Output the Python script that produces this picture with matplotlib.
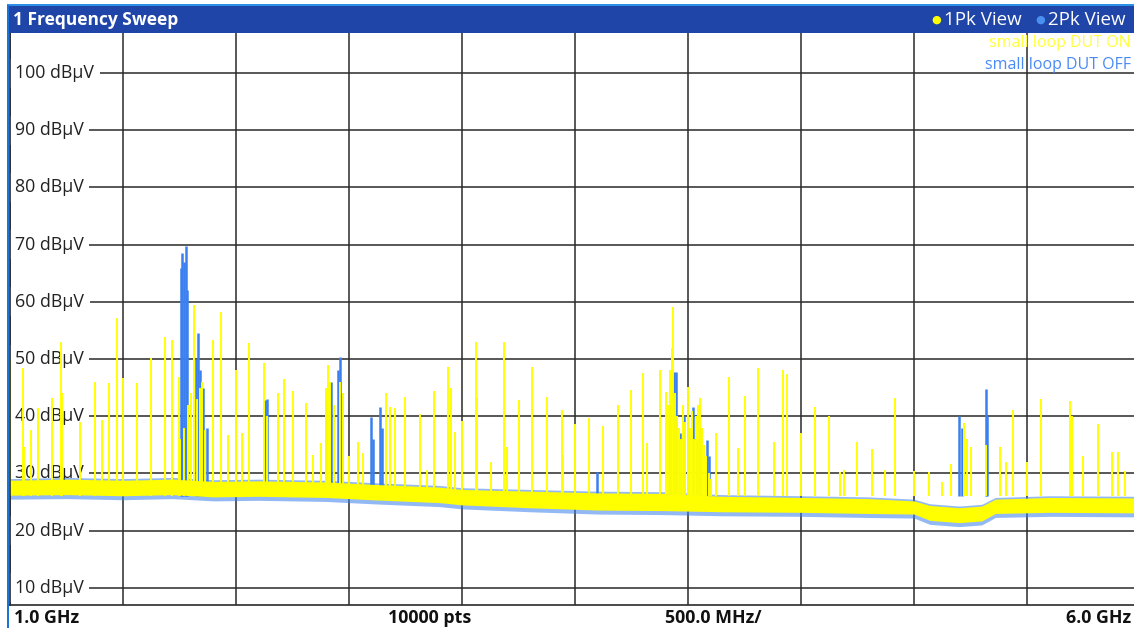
import matplotlib.pyplot as plt
from matplotlib.patches import Rectangle
import numpy as np

plt.rcParams["font.family"] = ["Open Sans", "DejaVu Sans"]

# ---- data (GHz, dBuV) ----
# noise floor band of trace 1 (yellow), top and bottom edge
floor_f = [1.00, 1.25, 1.50, 1.72, 1.90, 2.10, 2.40, 2.60, 2.90, 3.00,
           3.30, 3.60, 3.90, 4.15, 4.50, 4.80, 5.00, 5.07, 5.20, 5.30,
           5.36, 5.60, 6.00]
floor_top = [28.8, 29.0, 28.8, 29.0, 28.6, 28.7, 28.5, 28.1, 27.6, 27.2,
             26.9, 26.6, 26.5, 26.0, 25.8, 25.6, 25.2, 24.4, 24.0, 24.3,
             25.5, 25.8, 25.7]
floor_bot = [26.2, 26.3, 26.1, 26.3, 25.9, 26.0, 25.8, 25.4, 24.9, 24.5,
             24.0, 23.6, 23.5, 23.3, 23.2, 23.0, 22.9, 21.8, 21.4, 21.7,
             23.0, 23.2, 23.1]

# spurs of trace 1 "small loop DUT ON"
on_f = [1.002, 1.058, 1.062, 1.093, 1.124, 1.186, 1.226, 1.230, 1.310, 1.376,
        1.407, 1.438, 1.473, 1.500, 1.562, 1.624, 1.686, 1.717, 1.748, 1.752,
        1.770, 1.788, 1.801, 1.814, 1.827, 1.841, 1.850, 1.863, 1.898, 1.934,
        1.965, 2.000, 2.027, 2.058, 2.124, 2.137, 2.186, 2.212, 2.252, 2.310,
        2.341, 2.376, 2.398, 2.407, 2.416, 2.434, 2.460, 2.473, 2.500, 2.540,
        2.562, 2.664, 2.681, 2.704, 2.748, 2.814, 2.845, 2.876, 2.938, 2.951,
        2.969, 3.000, 3.062, 3.066, 3.128, 3.186, 3.199, 3.252, 3.310, 3.376,
        3.442, 3.447, 3.500, 3.562, 3.624, 3.690, 3.748, 3.801, 3.819, 3.874,
        3.903, 3.912, 3.920, 3.929, 3.934, 3.942, 3.951, 3.960, 3.969, 3.978,
        3.987, 4.000, 4.009, 4.018, 4.027, 4.035, 4.044, 4.053, 4.062, 4.071,
        4.080, 4.093, 4.102, 4.124, 4.181, 4.221, 4.252, 4.310, 4.381, 4.420,
        4.438, 4.500, 4.562, 4.624, 4.673, 4.690, 4.748, 4.814, 4.872, 4.916,
        5.000, 5.066, 5.124, 5.164, 5.221, 5.235, 5.252, 5.319, 5.381, 5.407,
        5.438, 5.500, 5.562, 5.690, 5.699, 5.748, 5.814, 5.876, 5.903, 5.934]
on_lvl = [50.0, 48.4, 34.6, 37.6, 41.4, 43.2, 53.0, 44.0, 39.0, 46.0,
          39.3, 45.8, 57.2, 46.7, 45.8, 50.2, 53.9, 53.3, 46.9, 36.0,
          38.0, 42.0, 44.0, 59.4, 43.0, 45.0, 46.0, 37.6, 53.3, 58.2,
          36.7, 48.1, 37.0, 52.8, 49.3, 40.0, 44.0, 46.5, 44.5, 42.3,
          33.2, 35.3, 45.0, 49.0, 46.0, 42.0, 46.0, 44.0, 33.0, 35.5,
          33.6, 44.0, 41.6, 41.4, 43.4, 40.4, 30.6, 44.4, 48.6, 44.9,
          37.2, 39.2, 53.0, 43.4, 32.0, 53.0, 34.6, 42.8, 48.6, 43.4,
          41.1, 33.2, 38.6, 39.7, 38.3, 42.0, 44.6, 47.6, 35.3, 48.1,
          44.2, 42.0, 48.0, 52.0, 59.1, 44.0, 40.0, 38.0, 36.0, 42.0,
          39.0, 45.1, 38.0, 41.0, 36.0, 40.0, 42.0, 43.2, 38.0, 35.0,
          33.0, 30.0, 29.0, 37.0, 46.9, 34.4, 43.5, 48.4, 35.5, 48.1,
          47.4, 37.0, 41.6, 40.0, 30.3, 30.6, 35.5, 34.3, 30.6, 43.2,
          30.5, 30.3, 28.5, 31.6, 38.8, 36.0, 34.6, 35.0, 34.6, 32.0,
          41.1, 32.0, 43.0, 42.7, 40.0, 33.0, 38.6, 33.7, 33.7, 30.5]

# spurs of trace 2 "small loop DUT OFF"
off_f = [1.757, 1.761, 1.770, 1.779, 1.783, 1.823, 1.832, 1.841, 1.854, 1.872,
         2.128, 2.137, 2.398, 2.420, 2.451, 2.460, 2.469, 2.597, 2.606, 2.637,
         2.646, 3.597, 3.920, 3.938, 3.947, 3.965, 3.982, 4.000, 4.022, 4.040,
         4.053, 4.084, 4.093, 5.199, 5.212, 5.319, 5.323]
off_lvl = [66.0, 68.5, 67.0, 69.8, 62.0, 50.0, 54.6, 48.0, 45.0, 38.0,
           42.8, 43.0, 43.0, 46.0, 48.0, 50.4, 44.0, 39.9, 36.0, 41.6,
           38.0, 30.3, 42.0, 47.7, 47.7, 37.0, 40.0, 38.0, 41.6, 36.0,
           38.0, 35.8, 33.0, 40.0, 38.0, 44.8, 40.0]

y_ticks = [10, 20, 30, 40, 50, 60, 70, 80, 90, 100]

YEL = "#ffff00"
BLU = "#3b80ee"

fig = plt.figure(figsize=(11.34, 6.28), dpi=100)
W, H = 1134, 628
ax = fig.add_axes([10 / W, (H - 605) / H, 1130 / W, 572 / H])
ax.set_xlim(1.0, 6.0)
ax.set_ylim(7, 107)
ax.set_xticks(np.arange(1.0, 6.01, 0.5))
ax.set_yticks(y_ticks)
ax.set_xticklabels([])
ax.set_yticklabels([])
ax.tick_params(length=0)
ax.grid(True, color="#2a2a2a", lw=1.1)
ax.set_axisbelow(True)
for s in ["top", "right"]:
    ax.spines[s].set_visible(False)
for s in ["left", "bottom"]:
    ax.spines[s].set_color("#2a2a2a")
    ax.spines[s].set_linewidth(1.2)
    ax.spines[s].set_zorder(5)

# y labels inside the plot, over the grid but under the traces
for v in y_ticks:
    ax.text(0.0045, v, f"{v} dBµV", transform=ax.get_yaxis_transform(),
            ha="left", va="center", fontsize=12.8, color="#222222", zorder=2,
            bbox=dict(facecolor="white", edgecolor="none", pad=4.0))

# trace 2 (blue) underneath
ax.fill_between(floor_f, np.array(floor_bot) - 0.7, np.array(floor_top) + 0.3,
                color=BLU, alpha=0.55, lw=0, zorder=3)
ax.vlines(off_f, 26.0, off_lvl, color=BLU, lw=1.8, zorder=3)

# trace 1 (yellow) on top
ax.vlines(on_f, 26.0, on_lvl, color=YEL, lw=1.4, zorder=4)
ax.fill_between(floor_f, floor_bot, floor_top, color=YEL, lw=0, zorder=4)

# title bar and frame
fig.patches.append(Rectangle((7 / W, (H - 33) / H), 1 - 7 / W, 28 / H,
                             transform=fig.transFigure, facecolor="#1f45a8",
                             edgecolor="none", zorder=5))
fig.patches.append(Rectangle((7 / W, (H - 6) / H), 1 - 7 / W, 2 / H,
                             transform=fig.transFigure, facecolor="#2d8fe6",
                             edgecolor="none", zorder=5))
fig.patches.append(Rectangle((7 / W, 0), 2 / W, (H - 5) / H,
                             transform=fig.transFigure, facecolor="#1a73d8",
                             edgecolor="none", zorder=5))

fig.text(13 / W, 1 - 20 / H, "1 Frequency Sweep", color="white", fontsize=12.5,
         fontweight="bold", ha="left", va="center", zorder=6)
fig.text(936 / W, 1 - 20 / H, "●", color="#ffff00", fontsize=8,
         ha="center", va="center", zorder=6)
fig.text(944 / W, 1 - 20 / H, "1Pk View", color="white", fontsize=13.5,
         ha="left", va="center", zorder=6)
fig.text(1040 / W, 1 - 20 / H, "●", color="#4a90f0", fontsize=8,
         ha="center", va="center", zorder=6)
fig.text(1048 / W, 1 - 20 / H, "2Pk View", color="white", fontsize=13.5,
         ha="left", va="center", zorder=6)

fig.text(1131 / W, 1 - 43 / H, "small loop DUT ON", color="#ffff40",
         fontsize=11.5, ha="right", va="center", zorder=6)
fig.text(1131 / W, 1 - 65 / H, "small loop DUT OFF", color="#4a8af4",
         fontsize=11.5, ha="right", va="center", zorder=6)

# bottom annotation strip
by = 1 - 618 / H
fig.text(14 / W, by, "1.0 GHz", fontsize=12.8, fontweight="bold", color="#111111",
         ha="left", va="center")
fig.text(430 / W, by, "10000 pts", fontsize=12.8, fontweight="bold",
         color="#111111", ha="center", va="center")
fig.text(713 / W, by, "500.0 MHz/", fontsize=12.8, fontweight="bold",
         color="#111111", ha="center", va="center")
fig.text(1131 / W, by, "6.0 GHz", fontsize=12.8, fontweight="bold",
         color="#111111", ha="right", va="center")

fig.savefig("out.png", dpi=100)
